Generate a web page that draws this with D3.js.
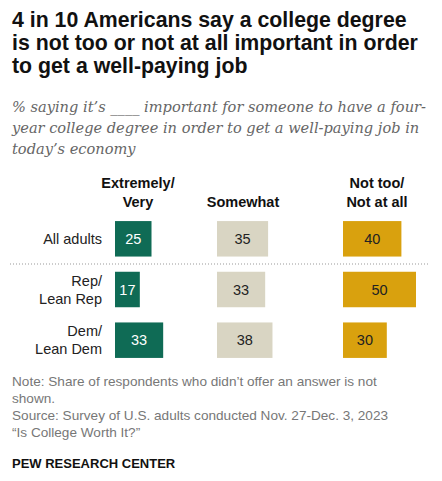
<!DOCTYPE html>
<html><head><meta charset="utf-8">
<script src="https://cdn.jsdelivr.net/npm/d3@7"></script>
<style>body{margin:0;background:#fff}</style>
</head><body><div id="chart"></div>
<script>
var groups = ["All adults", "Rep/|Lean Rep", "Dem/|Lean Dem"];
var columns = ["Extremely/|Very", "Somewhat", "Not too/|Not at all"];
var extremely = [25, 17, 33];
var somewhat = [35, 33, 38];
var notToo = [40, 50, 30];
var series = [extremely, somewhat, notToo];
var colors = ["#0f6b55", "#d9d5c3", "#d9a10e"];
var textColors = ["#fff", "#222", "#222"];

var width = 442, height = 481;
var svg = d3.select("#chart").append("svg")
  .attr("width", width).attr("height", height)
  .style("font-family", "'Liberation Sans', Arial, sans-serif");

// title
var title = ["4 in 10 Americans say a college degree", "is not too or not at all important in order", "to get a well-paying job"];
svg.append("g").selectAll("text").data(title).enter().append("text")
  .attr("x", 12).attr("y", (d, i) => 27 + i * 23)
  .attr("font-size", 21.3).attr("font-weight", "bold").attr("fill", "#111")
  .text(d => d);

var sub = ["% saying it\u2019s ____ important for someone to have a four-", "year college degree in order to get a well-paying job in", "today\u2019s economy"];
svg.append("g").selectAll("text").data(sub).enter().append("text")
  .attr("x", 12).attr("y", (d, i) => 112 + i * 21)
  .attr("font-family", "'DejaVu Serif', Georgia, serif").attr("font-style", "italic")
  .attr("font-size", 14.6).attr("fill", "#666")
  .text(d => d);

// scales
var colStart = [115, 217, 343];
var x = d3.scaleLinear().domain([0, 50]).range([0, 73]);
var y = d3.scaleBand().domain(groups).range([216, 363]).paddingInner(0.3).paddingOuter(0.1);

// column headers
columns.forEach(function(c, j) {
  var lines = c.split("|");
  var cx = j === 0 ? 138 : j === 1 ? 243 : 377;
  lines.forEach(function(l, k) {
    svg.append("text").attr("x", cx).attr("y", 207 - (lines.length - 1 - k) * 19)
      .attr("text-anchor", "middle").attr("font-size", 14.5).attr("font-weight", "bold")
      .attr("fill", "#111").text(l);
  });
});

// row labels
groups.forEach(function(g) {
  var lines = g.split("|");
  var cy = y(g) + y.bandwidth() / 2;
  lines.forEach(function(l, k) {
    svg.append("text").attr("x", 102).attr("y", cy + 5 + (k - (lines.length - 1) / 2) * 18)
      .attr("text-anchor", "end").attr("font-size", 14.5).attr("fill", "#222").text(l);
  });
});

// bars
series.forEach(function(vals, j) {
  var gcol = svg.append("g");
  gcol.selectAll("rect").data(vals).enter().append("rect")
    .attr("x", colStart[j]).attr("y", (d, i) => y(groups[i]))
    .attr("width", d => x(d)).attr("height", y.bandwidth())
    .attr("fill", colors[j]);
  gcol.selectAll("text").data(vals).enter().append("text")
    .attr("x", d => colStart[j] + x(d) / 2).attr("y", (d, i) => y(groups[i]) + y.bandwidth() / 2 + 5)
    .attr("text-anchor", "middle").attr("font-size", 14.5).attr("fill", textColors[j])
    .text(d => d);
});

// dotted separator
svg.append("line").attr("x1", 10).attr("x2", 430).attr("y1", 264).attr("y2", 264)
  .attr("stroke", "#999").attr("stroke-width", 1).attr("stroke-dasharray", "1,2");

// notes
var notes = ["Note: Share of respondents who didn\u2019t offer an answer is not", "shown.", "Source: Survey of U.S. adults conducted Nov. 27-Dec. 3, 2023", "\u201cIs College Worth It?\u201d"];
svg.append("g").selectAll("text").data(notes).enter().append("text")
  .attr("x", 12).attr("y", (d, i) => 386 + i * 17)
  .attr("font-size", 13.6).attr("fill", "#777").text(d => d);

svg.append("text").attr("x", 12).attr("y", 468)
  .attr("font-size", 13).attr("font-weight", "bold").attr("fill", "#111")
  .text("PEW RESEARCH CENTER");
</script></body></html>
